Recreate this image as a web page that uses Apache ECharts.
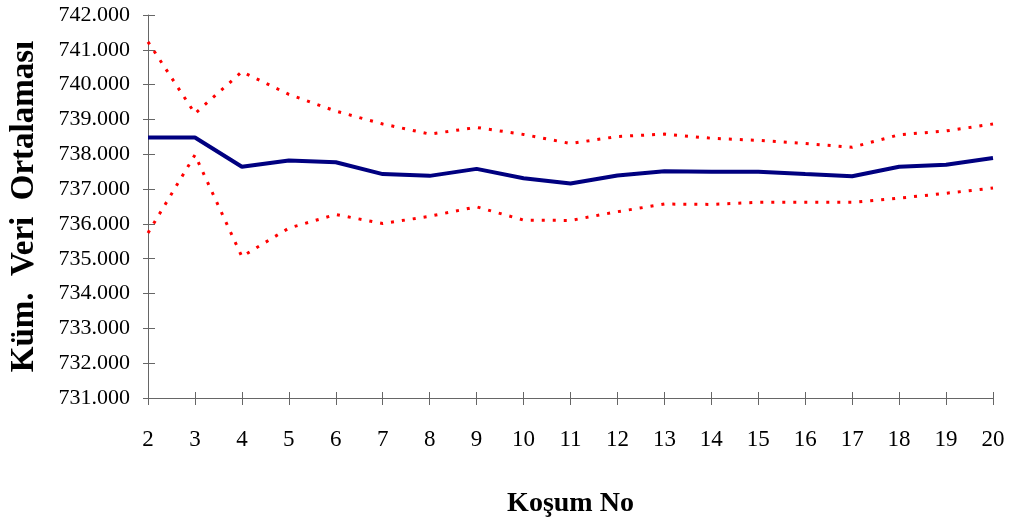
<!DOCTYPE html>
<html>
<head>
<meta charset="utf-8">
<script src="https://cdn.jsdelivr.net/npm/echarts@6/dist/echarts.min.js"></script>
<style>
  html, body { margin: 0; padding: 0; background: #fff; }
  #chart { width: 1014px; height: 524px; }
</style>
</head>
<body>
<div id="chart"></div>
<script>
// koşum numaraları
const runs = ['2', '3', '4', '5', '6', '7', '8', '9', '10', '11', '12', '13', '14', '15', '16', '17', '18', '19', '20'];
// kümülatif ortalama
const meanValues = [738.48, 738.48, 737.64, 737.82, 737.77, 737.43, 737.38, 737.58, 737.31, 737.16, 737.39, 737.51, 737.50, 737.50, 737.43, 737.37, 737.64, 737.70, 737.89];
// üst sınır
const upperValues = [741.23, 739.17, 740.37, 739.72, 739.24, 738.87, 738.58, 738.77, 738.57, 738.31, 738.51, 738.58, 738.46, 738.40, 738.31, 738.20, 738.56, 738.67, 738.87];
// alt sınır
const lowerValues = [735.74, 737.98, 735.06, 735.88, 736.27, 736.01, 736.22, 736.49, 736.11, 736.10, 736.35, 736.57, 736.56, 736.62, 736.62, 736.62, 736.74, 736.88, 737.03];

const yMin = 731;
const yMax = 742;
const yStep = 1;

const font = '"Liberation Serif", "Times New Roman", serif';
const axisColor = '#666';

const chart = echarts.init(document.getElementById('chart'));

const option = {
  animation: false,
  grid: { left: 147, right: 21, top: 15, bottom: 126 },
  xAxis: [
    {
      type: 'category',
      data: runs,
      boundaryGap: false,
      axisLine: { lineStyle: { color: axisColor, width: 1 } },
      axisTick: { show: true, length: 7, lineStyle: { color: axisColor } },
      axisLabel: { color: '#000', fontFamily: font, fontSize: 23, margin: 30 },
      splitLine: { show: false },
      name: 'Koşum No',
      nameLocation: 'middle',
      nameGap: 92,
      nameTextStyle: { color: '#000', fontFamily: font, fontSize: 28, fontWeight: 'bold' }
    },
    {
      // iç taraf çentikleri
      type: 'category',
      data: runs,
      boundaryGap: false,
      position: 'bottom',
      axisLine: { show: false },
      axisTick: { show: true, inside: true, length: 6, lineStyle: { color: axisColor } },
      axisLabel: { show: false },
      splitLine: { show: false }
    }
  ],
  yAxis: [
    {
      type: 'value',
      min: yMin,
      max: yMax,
      interval: yStep,
      axisLine: { show: true, lineStyle: { color: axisColor, width: 1 } },
      axisTick: { show: true, length: 5, lineStyle: { color: axisColor } },
      axisLabel: {
        color: '#000', fontFamily: font, fontSize: 22, margin: 18,
        formatter: (v) => v.toFixed(3)
      },
      splitLine: { show: false },
      name: 'Küm.  Veri  Ortalaması',
      nameLocation: 'middle',
      nameGap: 107,
      nameTextStyle: { color: '#000', fontFamily: font, fontSize: 33, fontWeight: 'bold' }
    },
    {
      type: 'value',
      min: yMin,
      max: yMax,
      interval: yStep,
      position: 'left',
      axisLine: { show: false },
      axisTick: { show: true, inside: true, length: 7, lineStyle: { color: axisColor } },
      axisLabel: { show: false },
      splitLine: { show: false }
    }
  ],
  series: [
    {
      name: 'Üst',
      type: 'line',
      data: upperValues,
      showSymbol: false,
      lineStyle: { color: '#ff0000', width: 3, type: [3, 8], cap: 'butt' }
    },
    {
      name: 'Alt',
      type: 'line',
      data: lowerValues,
      showSymbol: false,
      lineStyle: { color: '#ff0000', width: 3, type: [3, 8], cap: 'butt' }
    },
    {
      name: 'Ortalama',
      type: 'line',
      data: meanValues,
      showSymbol: false,
      lineStyle: { color: '#000080', width: 4 }
    }
  ]
};

chart.setOption(option);
</script>
</body>
</html>
